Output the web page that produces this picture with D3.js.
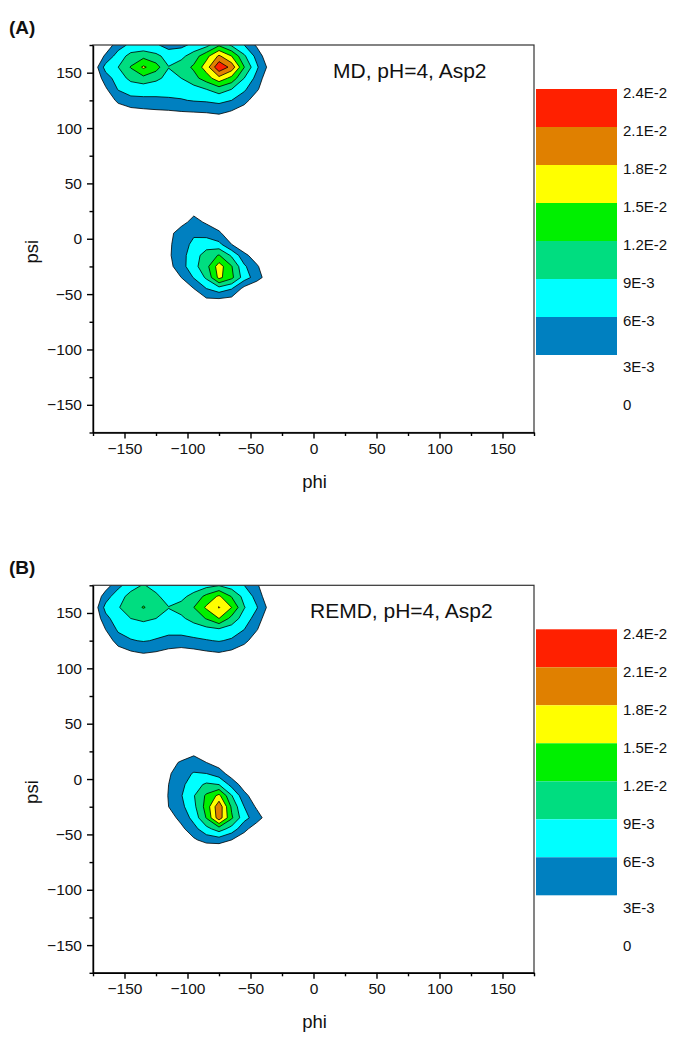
<!DOCTYPE html>
<html>
<head>
<meta charset="utf-8">
<script src="https://cdn.jsdelivr.net/npm/d3@7"></script>
<style>
  html, body { margin: 0; padding: 0; background: #fff; }
  svg { display: block; font-family: "Liberation Sans", Arial, sans-serif; }
</style>
</head>
<body>
<svg id="chart" width="674" height="1050"></svg>
<script>
// contour levels and band colours (lowest band first)
const LEVELS = [0.003, 0.006, 0.009, 0.012, 0.015, 0.018, 0.021];
const BAND_COLORS = ['#0080C0', '#00FFFF', '#00DD80', '#00F000', '#FFFF00', '#E08000', '#FF2000'];
const LEGEND_LABELS = ['2.4E-2', '2.1E-2', '1.8E-2', '1.5E-2', '1.2E-2', '9E-3', '6E-3', '3E-3', '0'];
const PHI_TICKS = [-150, -100, -50, 0, 50, 100, 150];
const MINOR_TICKS = [-175, -125, -75, -25, 25, 75, 125, 175];

// density grid: 10 degree bins centred on -175 ... 175
const GRID_N = 36;

// ---- (A) MD: beta / PPII basin
const A_UP_PHI = [-175, -165, -155, -145, -135, -125, -115, -105, -95, -85, -75, -65, -55, -45, -35];
const A_UP_PSI = [175, 165, 155, 145, 135, 125, 115, 105];
const A_UP_Z = [
  [0, 0.0010, 0.0045, 0.0068, 0.0066, 0.0064, 0.0048, 0.0052, 0.0068, 0.0080, 0.0115, 0.0085, 0.0060, 0.0025, 0],
  [0, 0.0035, 0.0075, 0.0100, 0.0111, 0.0098, 0.0078, 0.0082, 0.0105, 0.0140, 0.0185, 0.0150, 0.0095, 0.0050, 0.0005],
  [0.0005, 0.0072, 0.0090, 0.0122, 0.0155, 0.0133, 0.0091, 0.0105, 0.0125, 0.0165, 0.0235, 0.0200, 0.0121, 0.0065, 0.0020],
  [0, 0.0045, 0.0075, 0.0098, 0.0111, 0.0098, 0.0080, 0.0090, 0.0110, 0.0135, 0.0170, 0.0140, 0.0090, 0.0050, 0.0005],
  [0, 0.0025, 0.0062, 0.0072, 0.0070, 0.0068, 0.0068, 0.0072, 0.0078, 0.0090, 0.0105, 0.0090, 0.0065, 0.0035, 0],
  [0, 0.0005, 0.0038, 0.0052, 0.0055, 0.0056, 0.0057, 0.0058, 0.0062, 0.0064, 0.0068, 0.0060, 0.0042, 0.0010, 0],
  [0, 0, 0.0008, 0.0018, 0.0022, 0.0025, 0.0027, 0.0030, 0.0032, 0.0034, 0.0040, 0.0028, 0.0012, 0, 0],
  [0, 0, 0, 0, 0, 0, 0, 0, 0, 0, 0, 0, 0, 0, 0]
];
// ---- (A) MD: alpha-R basin
const A_LO_PHI = [-125, -115, -105, -95, -85, -75, -65, -55, -45, -35, -25];
const A_LO_PSI = [25, 15, 5, -5, -15, -25, -35, -45, -55, -65];
const A_LO_Z = [
  [0, 0, 0, 0.0022, 0.0010, 0, 0, 0, 0, 0, 0],
  [0, 0, 0.0020, 0.0040, 0.0026, 0.0012, 0, 0, 0, 0, 0],
  [0, 0.0020, 0.0045, 0.0055, 0.0050, 0.0035, 0.0010, 0, 0, 0, 0],
  [0, 0.0025, 0.0045, 0.0068, 0.0075, 0.0068, 0.0030, 0, 0, 0, 0],
  [0, 0.0025, 0.0050, 0.0075, 0.0105, 0.0122, 0.0085, 0.0040, 0.0010, 0, 0],
  [0, 0.0020, 0.0048, 0.0080, 0.0110, 0.0165, 0.0122, 0.0065, 0.0035, 0, 0],
  [0, 0.0005, 0.0030, 0.0062, 0.0095, 0.0158, 0.0128, 0.0075, 0.0045, 0.0010, 0],
  [0, 0, 0.0005, 0.0030, 0.0060, 0.0078, 0.0062, 0.0020, 0, 0, 0],
  [0, 0, 0, 0.0010, 0.0025, 0.0025, 0.0020, 0, 0, 0, 0],
  [0, 0, 0, 0, 0, 0, 0, 0, 0, 0, 0]
];

// ---- (B) REMD: beta / PPII basin
const B_UP_PHI = A_UP_PHI;
const B_UP_PSI = A_UP_PSI;
const B_UP_Z = [
  [0, 0.0015, 0.0050, 0.0080, 0.0092, 0.0080, 0.0068, 0.0068, 0.0072, 0.0080, 0.0088, 0.0075, 0.0060, 0.0035, 0],
  [0, 0.0045, 0.0080, 0.0098, 0.0108, 0.0095, 0.0078, 0.0082, 0.0100, 0.0128, 0.0155, 0.0118, 0.0080, 0.0050, 0.0005],
  [0.0005, 0.0070, 0.0088, 0.0105, 0.0122, 0.0108, 0.0091, 0.0100, 0.0120, 0.0155, 0.0182, 0.0150, 0.0092, 0.0062, 0.0020],
  [0, 0.0050, 0.0078, 0.0090, 0.0096, 0.0090, 0.0080, 0.0085, 0.0100, 0.0122, 0.0150, 0.0110, 0.0075, 0.0048, 0.0005],
  [0, 0.0030, 0.0065, 0.0072, 0.0075, 0.0070, 0.0068, 0.0070, 0.0075, 0.0080, 0.0085, 0.0075, 0.0060, 0.0032, 0],
  [0, 0.0008, 0.0045, 0.0058, 0.0062, 0.0058, 0.0052, 0.0050, 0.0054, 0.0058, 0.0062, 0.0056, 0.0040, 0.0010, 0],
  [0, 0, 0.0015, 0.0028, 0.0035, 0.0030, 0.0022, 0.0018, 0.0022, 0.0028, 0.0032, 0.0025, 0.0010, 0, 0],
  [0, 0, 0, 0, 0, 0, 0, 0, 0, 0, 0, 0, 0, 0, 0]
];
// ---- (B) REMD: alpha-R basin
const B_LO_PHI = A_LO_PHI;
const B_LO_PSI = A_LO_PSI;
const B_LO_Z = [
  [0, 0, 0, 0.0020, 0.0010, 0, 0, 0, 0, 0, 0],
  [0, 0.0015, 0.0035, 0.0045, 0.0030, 0.0015, 0, 0, 0, 0, 0],
  [0, 0.0025, 0.0050, 0.0062, 0.0060, 0.0045, 0.0015, 0, 0, 0, 0],
  [0, 0.0030, 0.0052, 0.0078, 0.0095, 0.0090, 0.0050, 0.0015, 0, 0, 0],
  [0, 0.0032, 0.0058, 0.0088, 0.0125, 0.0158, 0.0092, 0.0040, 0.0010, 0, 0],
  [0, 0.0030, 0.0052, 0.0082, 0.0132, 0.0202, 0.0115, 0.0060, 0.0025, 0, 0],
  [0, 0.0015, 0.0040, 0.0070, 0.0122, 0.0198, 0.0125, 0.0070, 0.0045, 0.0010, 0],
  [0, 0, 0.0022, 0.0050, 0.0080, 0.0105, 0.0078, 0.0040, 0.0010, 0, 0],
  [0, 0, 0.0005, 0.0025, 0.0042, 0.0045, 0.0030, 0.0010, 0, 0, 0],
  [0, 0, 0, 0, 0, 0, 0, 0, 0, 0, 0]
];

const PANELS = [
  { tag: '(A)', title: 'MD, pH=4, Asp2', titleX: 333, top: 45,
    patches: [[A_UP_PHI, A_UP_PSI, A_UP_Z], [A_LO_PHI, A_LO_PSI, A_LO_Z]] },
  { tag: '(B)', title: 'REMD, pH=4, Asp2', titleX: 310, top: 585.3,
    patches: [[B_UP_PHI, B_UP_PSI, B_UP_Z], [B_LO_PHI, B_LO_PSI, B_LO_Z]] }
];

const svg = d3.select('#chart');
const left = 93, right = 534, plotH = 387.5;

function buildGrid(patches) {
  const values = new Array(GRID_N * GRID_N).fill(0);
  patches.forEach(([phis, psis, z]) => {
    psis.forEach((psi, r) => phis.forEach((phi, c) => {
      const i = Math.round((phi + 175) / 10), j = Math.round((psi + 175) / 10);
      values[j * GRID_N + i] = z[r][c];
    }));
  });
  return values;
}

PANELS.forEach((p, k) => {
  const top = p.top, bottom = top + plotH;
  const x = d3.scaleLinear().domain([-175, 175]).range([left, right]);
  const y = d3.scaleLinear().domain([-175, 175]).range([bottom, top]);
  const g = svg.append('g');

  const clipId = 'clip' + k;
  svg.append('clipPath').attr('id', clipId)
    .append('rect').attr('x', left).attr('y', top).attr('width', right - left).attr('height', plotH);

  // grid coordinate -> angle: sample i sits at i + 0.5
  const proj = d3.geoTransform({
    point: function(gx, gy) {
      this.stream.point(x(-175 + 10 * (gx - 0.5)), y(-175 + 10 * (gy - 0.5)));
    }
  });
  const path = d3.geoPath(proj);
  const contours = d3.contours().size([GRID_N, GRID_N]).thresholds(LEVELS)(buildGrid(p.patches));

  g.append('g').attr('clip-path', `url(#${clipId})`)
    .selectAll('path').data(contours).join('path')
    .attr('d', path)
    .attr('fill', (d, i) => BAND_COLORS[i])
    .attr('stroke', '#000').attr('stroke-width', 0.8).attr('stroke-linejoin', 'round');

  // frame
  g.append('rect').attr('x', left).attr('y', top).attr('width', right - left).attr('height', plotH)
    .attr('fill', 'none').attr('stroke', '#333').attr('stroke-width', 1.2);

  // axes
  const xAxis = g.append('g').attr('transform', `translate(0,${bottom})`)
    .call(d3.axisBottom(x).tickValues(PHI_TICKS).tickSize(6).tickSizeOuter(0).tickPadding(4));
  g.append('g').attr('transform', `translate(0,${bottom})`)
    .call(d3.axisBottom(x).tickValues(MINOR_TICKS).tickSize(3.5).tickSizeOuter(0).tickFormat(''))
    .call(a => a.select('.domain').remove());
  const yAxis = g.append('g').attr('transform', `translate(${left},0)`)
    .call(d3.axisLeft(y).tickValues(PHI_TICKS).tickSize(6).tickSizeOuter(0).tickPadding(5));
  g.append('g').attr('transform', `translate(${left},0)`)
    .call(d3.axisLeft(y).tickValues(MINOR_TICKS).tickSize(3.5).tickSizeOuter(0).tickFormat(''))
    .call(a => a.select('.domain').remove());
  g.selectAll('.domain, .tick line').attr('stroke', '#000').attr('stroke-width', 1.4);
  [xAxis, yAxis].forEach(a => a.selectAll('text')
    .attr('font-size', 15.5).attr('font-family', '"Liberation Sans", Arial, sans-serif').attr('fill', '#111'));

  g.append('text').attr('x', (left + right) / 2 + 1).attr('y', bottom + 55)
    .attr('text-anchor', 'middle').attr('font-size', 18.5).attr('fill', '#111').text('phi');
  g.append('text').attr('transform', `translate(38,${y(0) + 13}) rotate(-90)`)
    .attr('text-anchor', 'middle').attr('font-size', 18.5).attr('fill', '#111').text('psi');

  g.append('text').attr('x', 9).attr('y', top - 11).attr('font-size', 19).attr('font-weight', 'bold')
    .attr('fill', '#111').text(p.tag);
  g.append('text').attr('x', p.titleX).attr('y', top + 33).attr('font-size', 21)
    .attr('fill', '#111').text(p.title);

  // colour scale legend
  const lg = g.append('g').attr('transform', `translate(536,${top + 44})`);
  const bandH = 38;
  const bands = BAND_COLORS.slice().reverse();
  lg.selectAll('rect').data(bands).join('rect')
    .attr('x', 0).attr('y', (d, i) => i * bandH).attr('width', 81).attr('height', bandH)
    .attr('fill', d => d);
  lg.selectAll('text').data(LEGEND_LABELS).join('text')
    .attr('x', 87).attr('y', (d, i) => i * bandH + (i >= 7 ? 12 : 4))
    .attr('dy', '0.35em').attr('font-size', 15).attr('fill', '#111').text(d => d);
});
</script>
</body>
</html>
